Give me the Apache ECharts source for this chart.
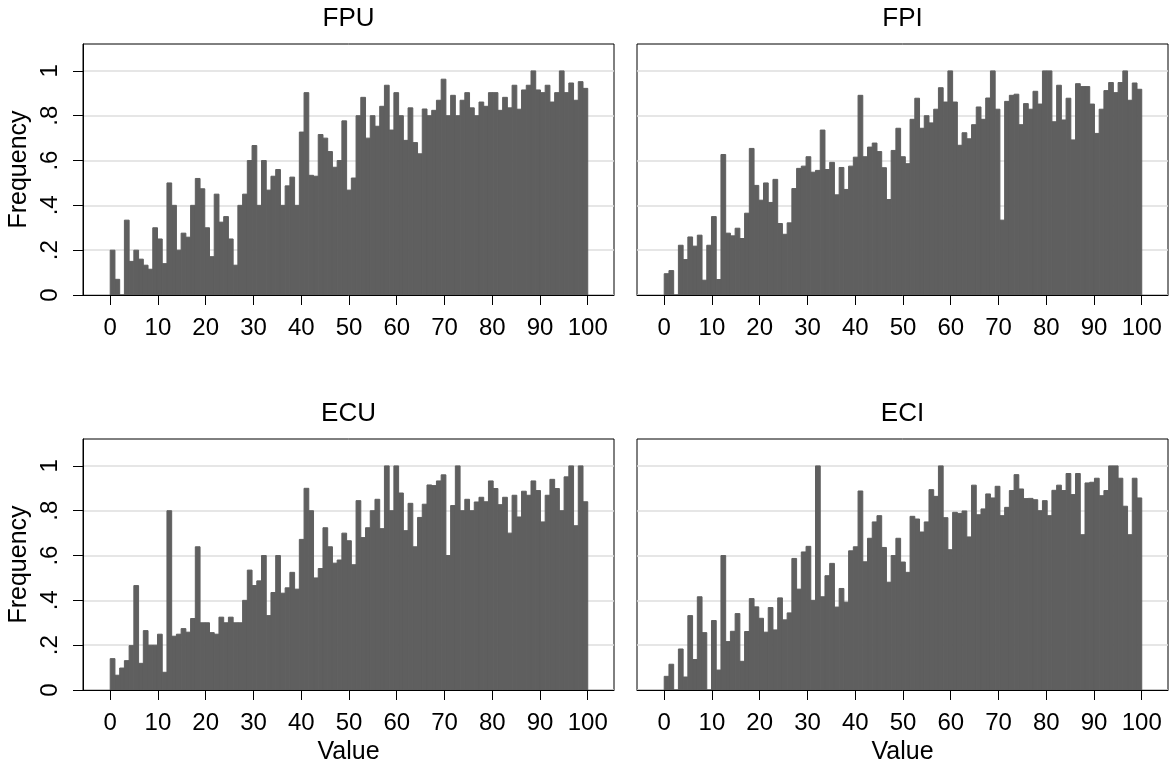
<!DOCTYPE html>
<html lang="en">
<head>
    <meta charset="UTF-8">
    <title>Histograms</title>
    <script src="https://cdn.jsdelivr.net/npm/echarts@6/dist/echarts.min.js"></script>
    <style>
        html, body { margin: 0; padding: 0; background: #fff; }
        #main { width: 1176px; height: 769px; }
    </style>
</head>
<body>
<div id="main"></div>
<script type="text/javascript">
    // panel names
    var panelNames = ['FPU', 'FPI', 'ECU', 'ECI'];
    // axis ticks
    var xTicks = [0, 10, 20, 30, 40, 50, 60, 70, 80, 90, 100];
    var yTicks = [0, 0.2, 0.4, 0.6, 0.8, 1];
    var yTickLabels = ['0', '.2', '.4', '.6', '.8', '1'];
    // 101 bins between 0 and 100
    var binCount = 101;

    // bar heights, one per bin
    var fpu = [.2, .07, 0, .334, .15, .2, .16, .133, .115, .30, .25, .14, .50, .40, .2, .276, .258, .40, .52, .474,
        .30, .171, .45, .325, .35, .25, .133, .40, .45, .60, .667, .40, .60, .468, .53, .56, .40, .487, .526, .40,
        .727, .903, .534, .53, .716, .70, .64, .57, .60, .777, .468, .522, .80, .882, .70, .80, .753, .842, .936, .736,
        .903, .80, .69, .835, .68, .63, .83, .80, .824, .869, .963, .80, .891, .80, .869, .903, .835, .80, .861, .842,
        .903, .903, .824, .882, .835, .936, .829, .915, .936, 1, .915, .903, .936, .861, .903, 1, .903, .946, .869, .952,
        .922];
    var fpi = [.095, .109, 0, .222, .158, .259, .218, .267, .066, .222, .35, .069, .627, .276, .264, .298, .252, .365, .654, .489,
        .423, .50, .413, .516, .319, .271, .322, .475, .565, .575, .617, .548, .556, .736, .56, .592, .447, .569, .471, .575,
        .615, .891, .617, .66, .678, .64, .568, .426, .645, .744, .617, .586, .784, .878, .744, .80, .768, .829, .925, .861,
        1, .861, .668, .724, .697, .76, .839, .784, .879, 1, .829, .334, .864, .891, .896, .76, .854, .829, .909, .852,
        1, 1, .773, .936, .781, .878, .692, .943, .93, .93, .852, .721, .829, .912, .948, .903, .948, 1, .869, .946,
        .918];
    var ecu = [.14, .066, .098, .131, .198, .466, .119, .265, .2, .2, .249, .079, .80, .24, .249, .274, .258, .319, .639, .30,
        .30, .256, .249, .325, .30, .325, .30, .30, .40, .535, .466, .487, .60, .332, .435, .60, .432, .456, .525, .45,
        .672, .90, .80, .50, .542, .724, .639, .566, .58, .70, .666, .559, .845, .68, .724, .80, .851, .72, 1, .80,
        1, .879, .711, .833, .639, .77, .829, .915, .912, .933, .96, .60, .823, 1, .80, .851, .80, .839, .86, .84,
        .933, .899, .827, .86, .70, .869, .772, .887, .869, .933, .89, .75, .869, .94, .899, .80, .951, 1, .733, 1,
        .84];
    var eci = [.061, .115, 0, .183, .058, .332, .136, .416, .256, 0, .31, .089, .60, .216, .262, .341, .128, .261, .408, .371,
        .32, .258, .368, .268, .411, .313, .344, .587, .45, .616, .641, .40, 1, .416, .51, .565, .37, .453, .392, .621,
        .639, .888, .572, .677, .75, .778, .636, .481, .60, .677, .571, .525, .775, .763, .705, .75, .894, .864, 1, .769,
        .626, .793, .788, .799, .683, .914, .782, .808, .875, .857, .909, .778, .815, .89, .961, .897, .854, .855, .849, .80,
        .845, .778, .891, .914, .89, .966, .872, .966, .693, .924, .927, .945, .867, .89, 1, 1, .945, .82, .693, .945,
        .857];
    var panelValues = [fpu, fpi, ecu, eci];

    var FONT = "'Liberation Sans', Arial, sans-serif";
    var BAR = '#5f5f5f';

    // plot frames
    var grids = [
        {left: 83, top: 44, width: 531, height: 251},
        {left: 637, top: 44, width: 531, height: 251},
        {left: 83, top: 439, width: 531, height: 251},
        {left: 637, top: 439, width: 531, height: 251}
    ];

    function toBins(vals) {
        var w = 100 / binCount;
        return vals.map(function (v, i) {
            return [i * w, (i + 1) * w, v];
        });
    }

    var myChart = echarts.init(document.getElementById('main'), null, {renderer: 'canvas'});

    var option = {
        animation: false,
        backgroundColor: '#fff',
        textStyle: {fontFamily: FONT},
        grid: [],
        xAxis: [],
        yAxis: [],
        series: [],
        graphic: []
    };

    for (var p = 0; p < 4; p++) {
        var g = grids[p];
        var isLeft = (p % 2 === 0);
        var isBottom = (p >= 2);
        option.grid.push({
            left: g.left, top: g.top, width: g.width, height: g.height,
            show: true, borderColor: '#000', borderWidth: 1, backgroundColor: '#fff',
            containLabel: false
        });
        option.xAxis.push({
            gridIndex: p,
            type: 'value',
            min: -5.7,
            max: 105.5,
            z: 5,
            name: isBottom ? 'Value' : '',
            nameLocation: 'middle',
            nameGap: 50,
            nameTextStyle: {fontSize: 25, color: '#000', fontFamily: FONT},
            axisLine: {show: true, onZero: false, lineStyle: {color: '#000', width: 1}},
            axisTick: {show: true, length: 10, customValues: xTicks, lineStyle: {color: '#000', width: 1}},
            axisLabel: {show: true, customValues: xTicks, margin: 21, fontSize: 24, color: '#000', fontFamily: FONT},
            splitLine: {show: false}
        });
        option.yAxis.push({
            gridIndex: p,
            type: 'value',
            min: 0,
            max: 1.12,
            interval: 0.2,
            name: isLeft ? 'Frequency' : '',
            nameLocation: 'middle',
            nameGap: 51,
            nameTextStyle: {fontSize: 25, color: '#000', fontFamily: FONT},
            axisLine: {show: isLeft, onZero: false, lineStyle: {color: '#000', width: 1}},
            axisTick: {show: isLeft, length: 10, customValues: yTicks, lineStyle: {color: '#000', width: 1}},
            axisLabel: {
                show: isLeft, customValues: yTicks, rotate: 90, margin: 21,
                fontSize: 24, color: '#000', fontFamily: FONT,
                formatter: function (v) {
                    var i = yTicks.indexOf(Math.round(v * 10) / 10);
                    return i >= 0 ? yTickLabels[i] : '';
                }
            },
            splitLine: {show: true, lineStyle: {color: '#dedede', width: 1.5}}
        });
        option.series.push({
            type: 'custom',
            xAxisIndex: p,
            yAxisIndex: p,
            data: toBins(panelValues[p]),
            encode: {x: [0, 1], y: 2},
            z: 2,
            renderItem: function (params, api) {
                var top = api.coord([api.value(0), api.value(2)]);
                var bot = api.coord([api.value(1), 0]);
                return {
                    type: 'rect',
                    shape: {x: top[0], y: top[1], width: bot[0] - top[0], height: bot[1] - top[1]},
                    style: {fill: BAR, stroke: BAR, lineWidth: 1}
                };
            }
        });
        option.graphic.push({
            type: 'text',
            x: g.left + g.width / 2,
            y: g.top - 25,
            style: {
                text: panelNames[p], align: 'center', verticalAlign: 'middle',
                fontSize: 26, fontFamily: FONT, fill: '#000'
            }
        });
    }

    myChart.setOption(option);
</script>
</body>
</html>
